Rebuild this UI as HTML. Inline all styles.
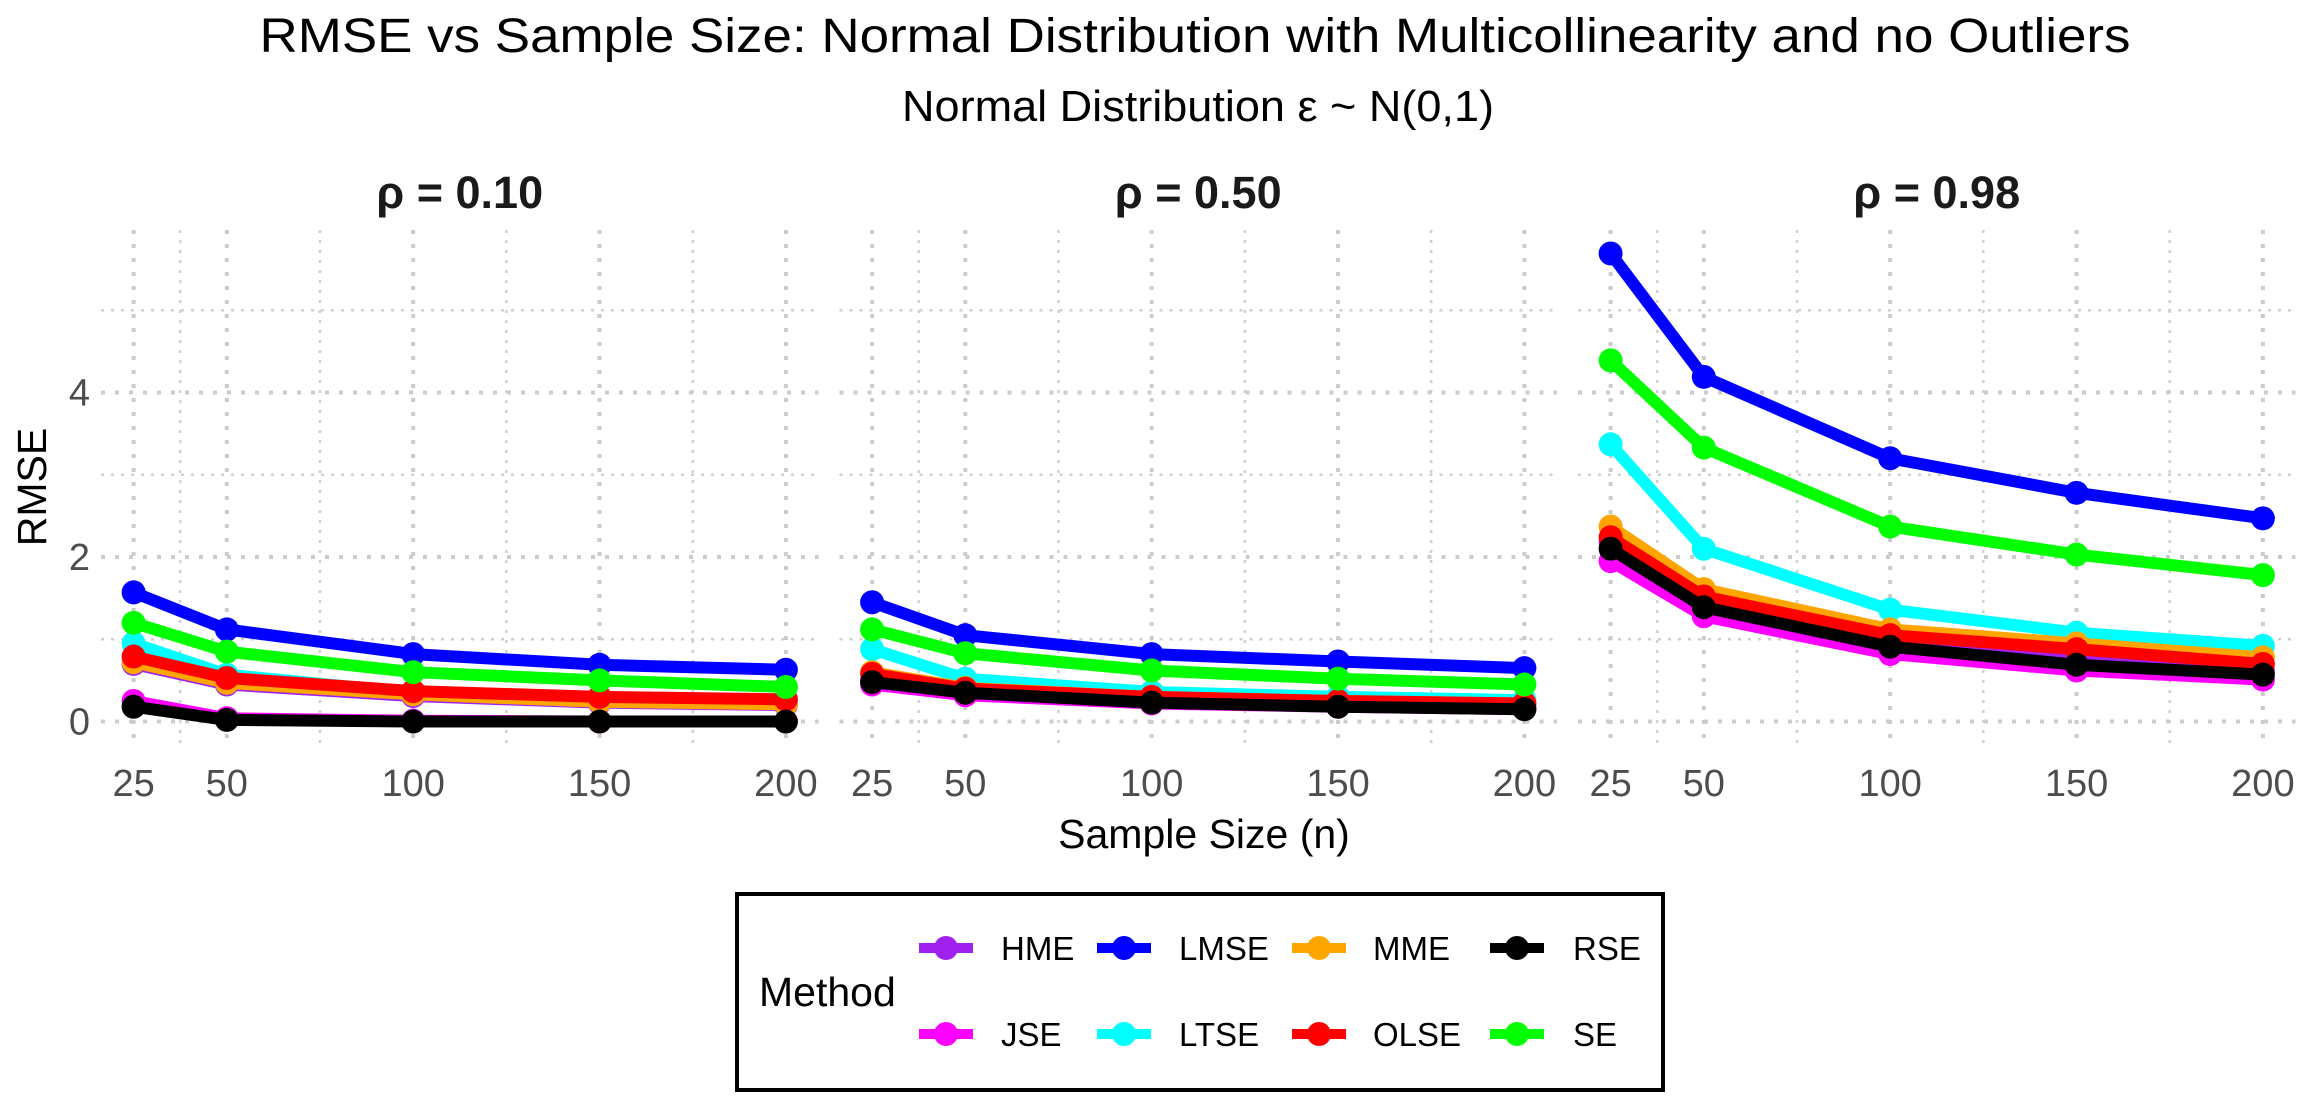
<!DOCTYPE html>
<html><head><meta charset="utf-8"><style>
html,body{margin:0;padding:0;background:#fff}
svg{display:block;font-family:"Liberation Sans",Arial,sans-serif}
</style></head><body>
<svg id="chart" width="2319" height="1113" viewBox="0 0 2319 1113">
<text x="1195" y="52" font-size="48" text-anchor="middle" textLength="1871" lengthAdjust="spacingAndGlyphs" fill="#000">RMSE vs Sample Size: Normal Distribution with Multicollinearity and no Outliers</text>
<text x="1198" y="121" font-size="44" text-anchor="middle" textLength="592" lengthAdjust="spacingAndGlyphs" fill="#000">Normal Distribution ε ~ N(0,1)</text>
<text x="1204" y="848" font-size="41" text-anchor="middle" fill="#000">Sample Size (n)</text>
<text transform="translate(46,487) rotate(-90)" font-size="41" text-anchor="middle" fill="#000">RMSE</text>
<g id="panels"></g>
<g id="legend">
<rect x="737" y="894" width="926" height="196" fill="#fff" stroke="#000" stroke-width="4"/>
<text x="759" y="1006" font-size="41" fill="#000">Method</text>
</g>
</svg>
<script>
const NS="http://www.w3.org/2000/svg";
const methods=["HME","JSE","LMSE","LTSE","MME","OLSE","RSE","SE"];
const colors=["#a020f0","#ff00ff","#0000ff","#00ffff","#ffa500","#ff0000","#000000","#00ff00"];
const sampleSizes=[25,50,100,150,200];
const panelTitles=["ρ = 0.10","ρ = 0.50","ρ = 0.98"];
const xTicks=[25,50,100,150,200];
const yTicks=[0,2,4];
const yMinor=[1,3,5];
const xMinor=[37.5,75,125,175];
const rho010=[
 [0.70,0.45,0.31,0.23,0.20],
 [0.25,0.04,0.01,0.00,0.00],
 [1.57,1.12,0.82,0.69,0.63],
 [0.95,0.57,0.35,0.27,0.24],
 [0.72,0.47,0.33,0.24,0.21],
 [0.79,0.53,0.37,0.30,0.27],
 [0.18,0.02,0.00,0.00,0.00],
 [1.20,0.85,0.60,0.50,0.42]];
const rho050=[
 [0.50,0.35,0.24,0.20,0.17],
 [0.45,0.32,0.22,0.18,0.15],
 [1.45,1.05,0.82,0.73,0.65],
 [0.88,0.52,0.36,0.30,0.26],
 [0.60,0.41,0.30,0.25,0.22],
 [0.58,0.40,0.30,0.25,0.22],
 [0.48,0.35,0.23,0.18,0.15],
 [1.12,0.83,0.62,0.52,0.45]];
const rho098=[
 [2.18,1.46,0.96,0.74,0.62],
 [1.95,1.28,0.82,0.62,0.51],
 [5.69,4.19,3.20,2.78,2.47],
 [3.37,2.10,1.36,1.08,0.92],
 [2.37,1.61,1.12,0.95,0.78],
 [2.24,1.52,1.05,0.88,0.70],
 [2.10,1.39,0.91,0.69,0.57],
 [4.39,3.33,2.37,2.03,1.78]];
const panelData=[rho010,rho050,rho098];

const panelLeft=[101,839.5,1578];
const panelW=717.5, plotTop=230, plotBottom=745;
const yMin=-0.285, yMax=5.975;
function yScale(v){return plotBottom-(v-yMin)/(yMax-yMin)*(plotBottom-plotTop);}
function xScale(p,n){return panelLeft[p]+(n-16.25)/(208.75-16.25)*panelW;}
function mk(tag,attrs,parent){const e=document.createElementNS(NS,tag);for(const k in attrs)e.setAttribute(k,attrs[k]);parent.appendChild(e);return e;}
const root=document.getElementById('panels');
for(let p=0;p<3;p++){
  const g=mk('g',{},root);
  
  
  const L=panelLeft[p],R=L+panelW;
  yMinor.forEach(v=>{const l=mk('line',{x1:L,x2:R,y1:yScale(v),y2:yScale(v),stroke:'#d0d0d0','stroke-width':2.5,'stroke-dasharray':'3 7'},g);
    
    });
  xMinor.forEach(v=>{const l=mk('line',{x1:xScale(p,v),x2:xScale(p,v),y1:plotTop,y2:plotBottom,stroke:'#d0d0d0','stroke-width':2.5,'stroke-dasharray':'3 7'},g);
    
    });
  yTicks.forEach(v=>{const l=mk('line',{x1:L,x2:R,y1:yScale(v),y2:yScale(v),stroke:'#cccccc','stroke-width':4,'stroke-dasharray':'4 10'},g);
    
    });
  xTicks.forEach(v=>{const l=mk('line',{x1:xScale(p,v),x2:xScale(p,v),y1:plotTop,y2:plotBottom,stroke:'#cccccc','stroke-width':4,'stroke-dasharray':'4 10'},g);
    
    
    const t=mk('text',{x:xScale(p,v),y:796,'font-size':38,'text-anchor':'middle',fill:'#4d4d4d'},g);t.textContent=v;
    
    });
  if(p===0){yTicks.forEach(v=>{const t=mk('text',{x:90,y:yScale(v)+13,'font-size':38,'text-anchor':'end',fill:'#4d4d4d'},g);t.textContent=v;
    
    });}
  const ft=mk('text',{x:L+panelW/2,y:208,'font-size':45,'font-weight':'bold','text-anchor':'middle',fill:'#1a1a1a'},g);ft.textContent=panelTitles[p];
  
  
  methods.forEach((m,i)=>{
    const vals=panelData[p][i];
    const pts=vals.map((v,j)=>xScale(p,sampleSizes[j])+','+yScale(v)).join(' ');
    const pl=mk('polyline',{points:pts,fill:'none',stroke:colors[i],'stroke-width':12,'stroke-linejoin':'round'},g);
    
    
    vals.forEach((v,j)=>{const c=mk('circle',{cx:xScale(p,sampleSizes[j]),cy:yScale(v),r:12,fill:colors[i]},g);
      
      });
  });
}
const leg=document.getElementById('legend');
const legOrder=[["HME","JSE"],["LMSE","LTSE"],["MME","OLSE"],["RSE","SE"]];
const keyX=[946,1124,1319,1517], labX=[1001,1179,1373,1573], rowY=[948,1034];
legOrder.forEach((col,c)=>col.forEach((m,r)=>{
  const col_=colors[methods.indexOf(m)];
  const l=mk('line',{x1:keyX[c]-27,x2:keyX[c]+27,y1:rowY[r],y2:rowY[r],stroke:col_,'stroke-width':10},leg);
  
  
  const ci=mk('circle',{cx:keyX[c],cy:rowY[r],r:12,fill:col_},leg);
  
  
  const t=mk('text',{x:labX[c],y:rowY[r]+12,'font-size':33,fill:'#000'},leg);t.textContent=m;
  
  
}));
</script>
</body></html>
